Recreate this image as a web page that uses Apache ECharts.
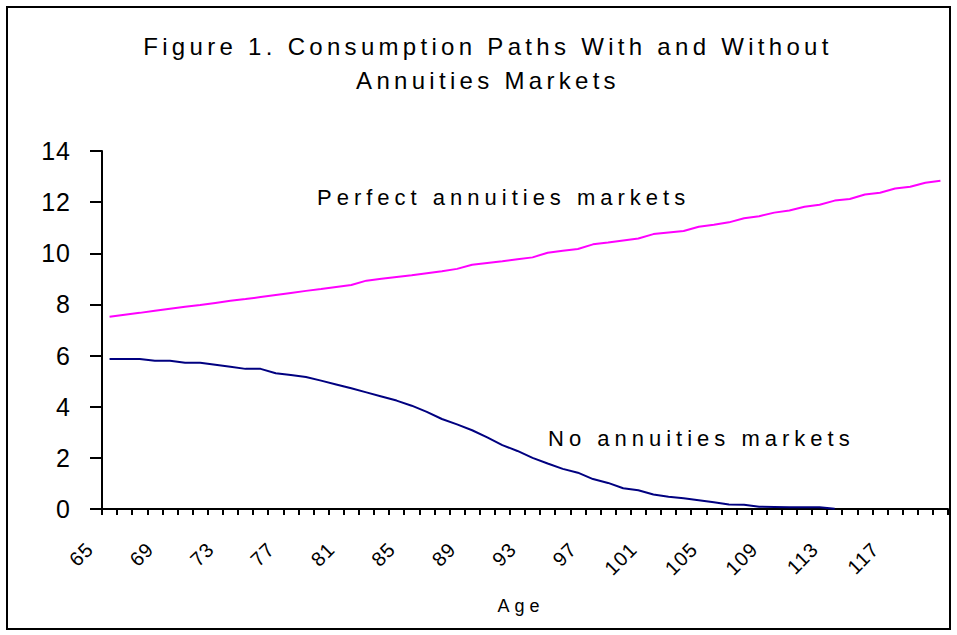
<!DOCTYPE html>
<html>
<head>
<meta charset="utf-8">
<script src="https://cdn.jsdelivr.net/npm/echarts@6/dist/echarts.min.js"></script>
<style>
  html, body { margin: 0; padding: 0; background: #fff; }
  #chart { width: 957px; height: 635px; }
  /* Excel-style spaced lettering */
  #chart text { letter-spacing: 1px; }
  #chart text[style*="Liberation"] { letter-spacing: 4.3px; }
  #chart text[style*="Helvetica"] { letter-spacing: 5px; }
</style>
</head>
<body>
<div id="chart"></div>
<script>
// ages on the x axis
var ages = [65, 66, 67, 68, 69, 70, 71, 72, 73, 74, 75, 76, 77, 78, 79, 80,
    81, 82, 83, 84, 85, 86, 87, 88, 89, 90, 91, 92, 93, 94, 95, 96, 97, 98,
    99, 100, 101, 102, 103, 104, 105, 106, 107, 108, 109, 110, 111, 112,
    113, 114, 115, 116, 117, 118, 119, 120];

// consumption with perfect annuities markets
var perfect = [7.52, 7.60, 7.67, 7.75, 7.83, 7.91, 7.98, 8.06, 8.14, 8.21,
    8.29, 8.37, 8.45, 8.53, 8.60, 8.68, 8.76, 8.93, 9.00, 9.07, 9.14, 9.22,
    9.30, 9.39, 9.55, 9.62, 9.69, 9.77, 9.84, 10.02, 10.10, 10.17, 10.35,
    10.42, 10.50, 10.58, 10.75, 10.81, 10.87, 11.04, 11.12, 11.21, 11.37,
    11.45, 11.59, 11.67, 11.82, 11.90, 12.06, 12.12, 12.30, 12.37, 12.53,
    12.60, 12.76, 12.84];

// consumption with no annuities markets (ends at 113)
var noAnnuities = [5.87, 5.87, 5.87, 5.80, 5.80, 5.72, 5.72, 5.64, 5.56,
    5.48, 5.48, 5.31, 5.24, 5.16, 5.02, 4.87, 4.72, 4.56, 4.40, 4.24, 4.04,
    3.80, 3.52, 3.31, 3.08, 2.80, 2.50, 2.27, 2.00, 1.78, 1.57, 1.42, 1.17,
    1.02, 0.81, 0.73, 0.57, 0.48, 0.42, 0.34, 0.26, 0.18, 0.17, 0.09, 0.08,
    0.07, 0.07, 0.07, 0.01];

var yTicks = [0, 2, 4, 6, 8, 10, 12, 14];

var titleText = 'Figure 1. Consumption Paths With and Without\nAnnuities Markets';
var spaced = 'Liberation Sans';
var wide = 'Helvetica';
var plain = 'Arial';

var chart = echarts.init(document.getElementById('chart'), null, {renderer: 'svg'});

var option = {
    animation: false,
    backgroundColor: '#fff',
    grid: {
        left: 102,
        right: 9,
        top: 151,
        bottom: 126
    },
    xAxis: {
        type: 'category',
        data: ages,
        boundaryGap: true,
        axisLine: {show: true, lineStyle: {color: '#000', width: 2}},
        axisTick: {show: true, interval: 0, length: 6, lineStyle: {color: '#000', width: 2}},
        splitLine: {show: false},
        axisLabel: {
            interval: 3,
            rotate: 45,
            margin: 17,
            padding: [0, 28, 0, 0],
            fontFamily: plain,
            fontSize: 20,
            color: '#000'
        }
    },
    yAxis: {
        type: 'value',
        min: yTicks[0],
        max: yTicks[yTicks.length - 1],
        interval: 2,
        axisLine: {show: true, lineStyle: {color: '#000', width: 2}},
        axisTick: {show: true, length: 12, lineStyle: {color: '#000', width: 2}},
        splitLine: {show: false},
        axisLabel: {
            margin: 31,
            fontFamily: plain,
            fontSize: 25,
            color: '#000'
        }
    },
    graphic: [
        {
            type: 'rect',
            shape: {x: 7, y: 7, width: 943, height: 622},
            style: {fill: 'none', stroke: '#000', lineWidth: 2},
            silent: true
        },
        {
            type: 'text',
            x: 488,
            y: 29,
            style: {
                text: titleText,
                fontFamily: spaced,
                fontSize: 24,
                lineHeight: 34,
                fill: '#000',
                align: 'center',
                verticalAlign: 'top'
            }
        },
        {
            type: 'text',
            x: 317,
            y: 197,
            style: {
                text: 'Perfect annuities markets',
                fontFamily: wide,
                fontSize: 22,
                fill: '#000',
                align: 'left',
                verticalAlign: 'middle'
            }
        },
        {
            type: 'text',
            x: 548,
            y: 438,
            style: {
                text: 'No annuities markets',
                fontFamily: wide,
                fontSize: 22,
                fill: '#000',
                align: 'left',
                verticalAlign: 'middle'
            }
        },
        {
            type: 'text',
            x: 521,
            y: 606,
            style: {
                text: 'Age',
                fontFamily: wide,
                fontSize: 18,
                fill: '#000',
                align: 'center',
                verticalAlign: 'middle'
            }
        }
    ],
    series: [
        {
            name: 'Perfect annuities markets',
            type: 'line',
            data: perfect,
            symbol: 'none',
            lineStyle: {color: '#FF00FF', width: 2}
        },
        {
            name: 'No annuities markets',
            type: 'line',
            data: noAnnuities,
            symbol: 'none',
            lineStyle: {color: '#000080', width: 2}
        }
    ]
};
chart.setOption(option);
</script>
</body>
</html>
